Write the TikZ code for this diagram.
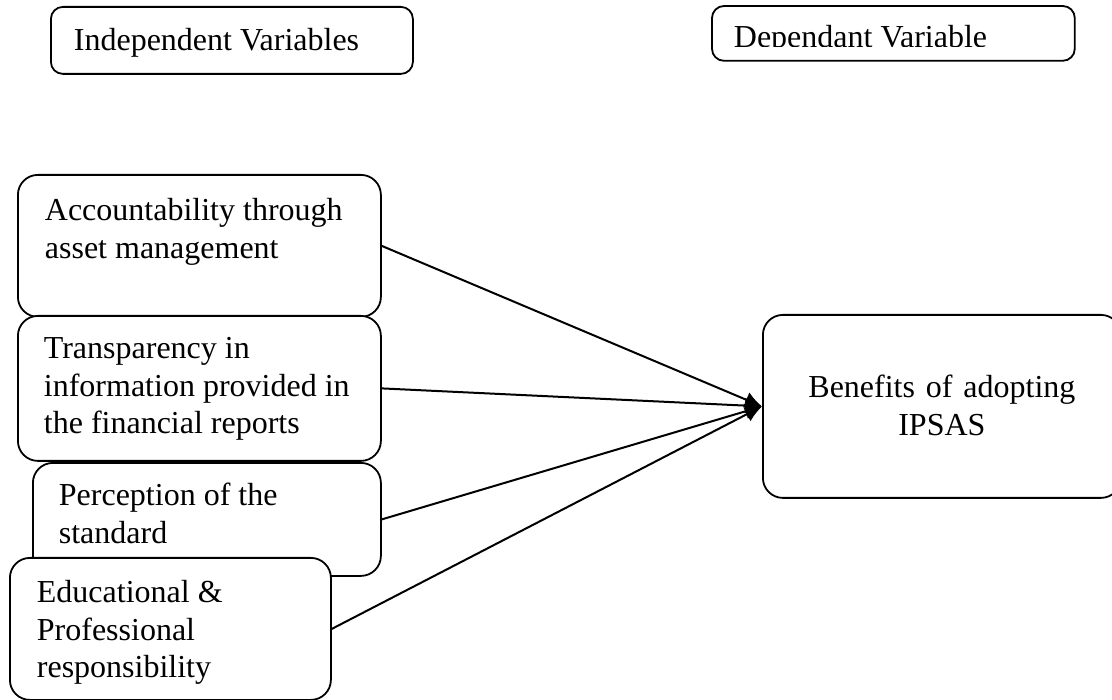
\documentclass[tikz,border=0pt]{standalone}
\usepackage{fontspec}
\setmainfont{Liberation Serif}
\usetikzlibrary{arrows.meta}

\begin{document}
\begin{tikzpicture}
    [line cap=round,line join=round,x=1pt,y=-1pt,
     box/.style={draw=black,fill=white,line width=1.8pt,rounded corners=20pt,
        anchor=north west,inner ysep=0pt,align=left,
        font=\fontsize{32}{37.5}\selectfont,
        execute at begin node={\spaceskip=0pt\xspaceskip=0pt}},
     headbox/.style={box,rounded corners=12pt},
     link/.style={-{Latex[length=17pt,width=16pt]},line width=2pt}]
\useasboundingbox (0,0) rectangle (1112,700);
%headings
\node[headbox,inner xsep=23pt,text width=316pt,text height=44pt,text depth=23pt] (indep) at (50,6) {Independent Variables};
%the text of this one is cut at its baseline
\begin{scope}
  \clip (700,0) rectangle (1090,46.5);
  \node[headbox,draw=none,fill=none,inner xsep=21pt,text width=319pt,text height=41pt,text depth=12pt] (dep) at (712,6) {Dependant Variable};
\end{scope}
\draw[line width=1.8pt,rounded corners=12pt] (dep.north west) rectangle (dep.south east);

%independent variables
\node[box,inner xsep=27pt,text width=309pt,text height=46pt,text depth=96pt] (acc) at (17,174) {Accountability through\\asset management};
\node[box,inner xsep=26pt,text width=311pt,text height=43pt,text depth=102pt] (trans) at (17,315) {Transparency in\\information provided in\\the financial reports};
\node[box,inner xsep=26pt,text width=296pt,text height=43pt,text depth=70pt] (perc) at (32,462) {Perception of the\\standard};
\node[box,inner xsep=27pt,text width=267pt,text height=45pt,text depth=97pt] (edu) at (9,557) {Educational \&\\Professional\\responsibility};

%dependant variable
\node[box,align=center,inner xsep=0pt,text width=358pt,text height=83pt,text depth=100pt] (ben) at (762,314) {Benefits of adopting\\IPSAS};

%links
\draw[link] (acc.east) -- (ben.west);
\draw[link] (trans.east) -- (ben.west);
\draw[link] (perc.east) -- (ben.west);
\draw[link] (edu.east) -- (ben.west);
\end{tikzpicture}
\end{document}
